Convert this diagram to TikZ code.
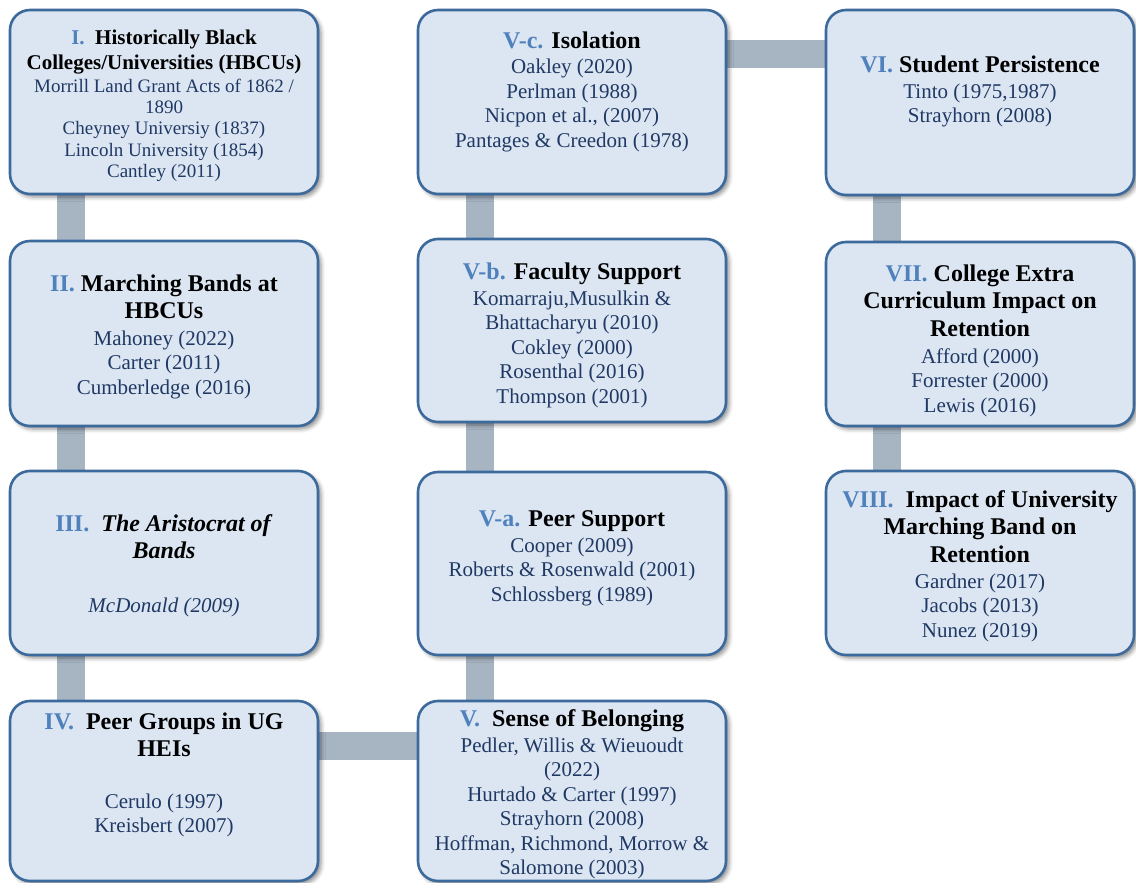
\documentclass[tikz,border=0pt]{standalone}
\usepackage{fontspec}
\setmainfont{Liberation Serif}
\usetikzlibrary{shadows.blur}
\pgfdeclarelayer{background}
\pgfsetlayers{background,main}
\definecolor{boxfill}{HTML}{DCE6F2}
\definecolor{boxline}{HTML}{3C6A9C}
\definecolor{barcol}{HTML}{A7B5C3}
\definecolor{numcol}{HTML}{4F81BD}
\definecolor{refcol}{HTML}{1F3864}
\newcommand{\num}[1]{{\color{numcol}#1}}
\begin{document}
\begin{tikzpicture}[x=1pt,y=-1pt,
  box/.style={draw=boxline, line width=2.6pt, fill=boxfill, rounded corners=20pt,
    minimum width=308pt, inner sep=0pt,
    blur shadow={shadow xshift=3pt, shadow yshift=-3pt, shadow blur radius=4pt, shadow opacity=45}},
  ttl/.style={font=\fontsize{24}{27.5}\selectfont\bfseries, align=center, inner sep=0pt, anchor=north},
  ttlsmall/.style={font=\fontsize{21}{25}\selectfont\bfseries, align=center, inner sep=0pt, anchor=north},
  refs/.style={font=\fontsize{21}{24.5}\selectfont, text=refcol, align=center, inner sep=0pt, anchor=north},
  refssmall/.style={font=\fontsize{19}{21.3}\selectfont, text=refcol, align=center, inner sep=0pt, anchor=north},
  bar/.style={draw=barcol, line width=28pt}]
\useasboundingbox (0,0) rectangle (1136,883);

% ---- left column ----
\node[box, minimum height=184pt] (b1) at (164,102) {};
\node[ttlsmall] (b1t) at (164,26.5) {\strut\num{I.}~ Historically Black\\Colleges/Universities (HBCUs)};
\node[refssmall] (b1r) at (164,77.1) {\strut Morrill Land Grant Acts of 1862 /\\1890\\Cheyney Universiy (1837)\\Lincoln University (1854)\\Cantley (2011)};

\node[box, minimum height=185pt] (b2) at (164,333.5) {};
\node[ttl] (b2t) at (164,271.75) {\strut\num{II.} Marching Bands at\\HBCUs};
\node[refs] (b2r) at (164,327.85) {\strut Mahoney (2022)\\Carter (2011)\\Cumberledge (2016)};

\node[box, minimum height=184pt] (b3) at (164,563) {};
\node[ttl] (b3t) at (164,511.75) {\strut\num{III.}~ \textit{The Aristocrat of}\\\textit{Bands}};
\node[refs] (b3r) at (164,594.85) {\strut\textit{McDonald (2009)}};

\node[box, minimum height=180pt] (b4) at (164,791) {};
\node[ttl] (b4t) at (164,709.75) {\strut\num{IV.}~ Peer Groups in UG\\HEIs};
\node[refs] (b4r) at (164,790.85) {\strut Cerulo (1997)\\Kreisbert (2007)};

% ---- middle column ----
\node[box, minimum height=184pt] (c1) at (572,102) {};
\node[ttl] (c1t) at (572,28.75) {\strut\num{V-c.} Isolation};
\node[refs] (c1r) at (572,56.35) {\strut Oakley (2020)\\Perlman (1988)\\Nicpon et al., (2007)\\Pantages \& Creedon (1978)};

\node[box, minimum height=183pt] (c2) at (572,330.5) {};
\node[ttl] (c2t) at (572,259.75) {\strut\num{V-b.} Faculty Support};
\node[refs] (c2r) at (572,287.85) {\strut Komarraju,Musulkin \&\\Bhattacharyu (2010)\\Cokley (2000)\\Rosenthal (2016)\\Thompson (2001)};

\node[box, minimum height=183pt] (c3) at (572,563.5) {};
\node[ttl] (c3t) at (572,506.75) {\strut\num{V-a.} Peer Support};
\node[refs] (c3r) at (572,534.85) {\strut Cooper (2009)\\Roberts \& Rosenwald (2001)\\Schlossberg (1989)};

\node[box, minimum height=180pt] (c4) at (572,791) {};
\node[ttl] (c4t) at (572,706.75) {\strut\num{V.}~ Sense of Belonging};
\node[refs] (c4r) at (572,734.85) {\strut Pedler, Willis \& Wieuoudt\\(2022)\\Hurtado \& Carter (1997)\\Strayhorn (2008)\\Hoffman, Richmond, Morrow \&\\Salomone (2003)};

% ---- right column ----
\node[box, minimum height=185pt] (d1) at (980,102.5) {};
\node[ttl] (d1t) at (980,52.75) {\strut\num{VI.} Student Persistence};
\node[refs] (d1r) at (980,80.85) {\strut Tinto (1975,1987)\\Strayhorn (2008)};

\node[box, minimum height=184pt] (d2) at (980,334) {};
\node[ttl] (d2t) at (980,261.75) {\strut\num{VII.} College Extra\\Curriculum Impact on\\Retention};
\node[refs] (d2r) at (980,345.85) {\strut Afford (2000)\\Forrester (2000)\\Lewis (2016)};

\node[box, minimum height=184pt] (d3) at (980,563) {};
\node[ttl] (d3t) at (980,487.75) {\strut\num{VIII.}~ Impact of University\\Marching Band on\\Retention};
\node[refs] (d3r) at (980,570.85) {\strut Gardner (2017)\\Jacobs (2013)\\Nunez (2019)};

% ---- connecting bars ----
\begin{pgfonlayer}{background}
  \draw[bar] ([xshift=62pt]b1.south west) -- ([xshift=62pt]b2.north west);
  \draw[bar] ([xshift=62pt]b2.south west) -- ([xshift=62pt]b3.north west);
  \draw[bar] ([xshift=62pt]b3.south west) -- ([xshift=62pt]b4.north west);
  \draw[bar] ([yshift=-46pt]b4.north east) -- ([yshift=-46pt]c4.north west);
  \draw[bar] ([xshift=63pt]c4.north west) -- ([xshift=63pt]c3.south west);
  \draw[bar] ([xshift=63pt]c3.north west) -- ([xshift=63pt]c2.south west);
  \draw[bar] ([xshift=63pt]c2.north west) -- ([xshift=63pt]c1.south west);
  \draw[bar] ([yshift=-45.5pt]c1.north east) -- ([yshift=-45.5pt]d1.north west);
  \draw[bar] ([xshift=62pt]d1.south west) -- ([xshift=62pt]d2.north west);
  \draw[bar] ([xshift=62pt]d2.south west) -- ([xshift=62pt]d3.north west);
\end{pgfonlayer}
\end{tikzpicture}
\end{document}
